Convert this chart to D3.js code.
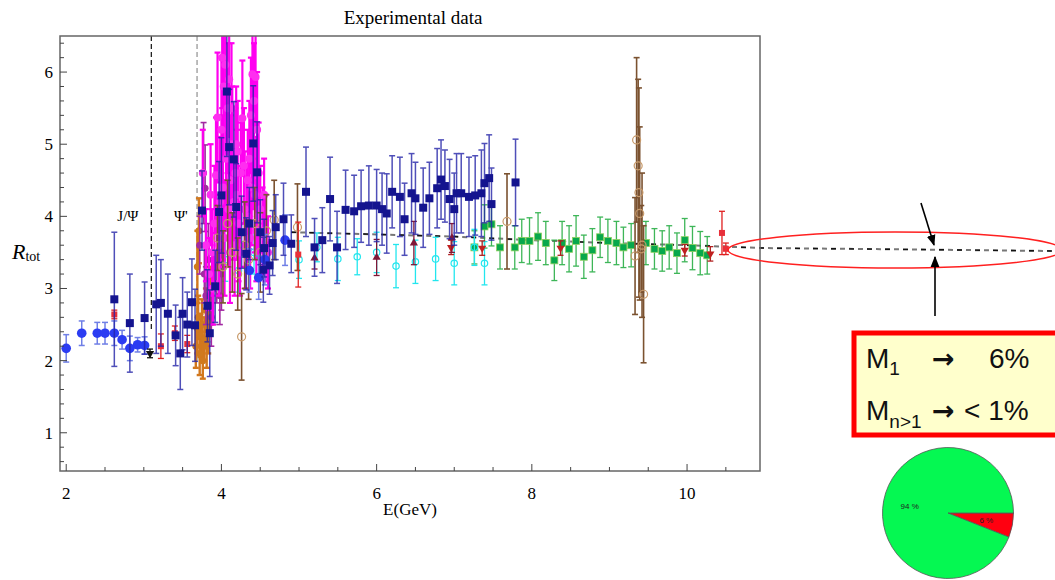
<!DOCTYPE html>
<html>
<head>
<meta charset="utf-8">
<script src="https://cdn.jsdelivr.net/npm/d3@7"></script>
<style>
  body { margin: 0; background: #fff; }
  svg { display: block; }
</style>
</head>
<body>
<svg id="chart" width="1055" height="580"></svg>
<script>
// ---- axis ticks ----
const xTicks = [2, 4, 6, 8, 10];
const yTicks = [1, 2, 3, 4, 5, 6];

// ---- measurements: [E (GeV), R, error] ----
const lowEnergyCircles = [
  [2.0, 2.17, 0.19], [2.2, 2.38, 0.17], [2.4, 2.38, 0.15], [2.5, 2.38, 0.15],
  [2.62, 2.38, 0.17], [2.72, 2.29, 0.13], [2.82, 2.17, 0.17], [2.92, 2.22, 0.10],
  [3.01, 2.21, 0.12], [4.36, 3.25, 0.30], [4.48, 3.15, 0.30], [4.56, 3.40, 0.35],
  [4.82, 3.67, 0.35]
];
const navySquares = [
  [2.62, 2.85, 0.93], [2.82, 2.52, 0.68], [3.01, 2.59, 0.50], [3.16, 2.78, 0.68],
  [3.22, 2.80, 0.60], [3.31, 2.65, 0.55], [3.41, 2.35, 0.42], [3.47, 2.10, 0.50],
  [3.50, 2.65, 0.50], [3.56, 2.50, 0.45], [3.62, 2.81, 0.60], [3.66, 2.49, 0.50],
  [3.75, 4.08, 0.55], [3.82, 2.76, 0.50], [3.85, 2.38, 0.60], [3.92, 3.03, 0.50],
  [3.97, 4.06, 0.70], [4.00, 4.29, 0.80], [4.07, 5.73, 0.90], [4.10, 4.96, 0.80],
  [4.16, 4.79, 0.80], [4.19, 4.13, 0.60], [4.26, 3.78, 0.50], [4.32, 3.48, 0.50],
  [4.36, 3.90, 0.50], [4.41, 5.01, 0.80], [4.46, 4.61, 0.70], [4.50, 3.78, 0.45],
  [4.54, 3.26, 0.45], [4.55, 3.56, 0.40], [4.62, 3.32, 0.40], [4.66, 3.63, 0.45],
  [4.70, 3.85, 0.45], [4.80, 3.96, 0.50], [4.90, 3.62, 0.40], [5.09, 4.34, 0.62],
  [5.20, 3.57, 0.40], [5.30, 3.67, 0.45], [5.40, 4.24, 0.58], [5.49, 3.57, 0.50],
  [5.60, 4.09, 0.55], [5.71, 4.07, 0.50], [5.80, 4.14, 0.50], [5.90, 4.15, 0.55],
  [6.00, 4.15, 0.50], [6.07, 4.10, 0.50], [6.13, 4.04, 0.55], [6.20, 4.34, 0.50],
  [6.30, 4.27, 0.55], [6.36, 3.96, 0.50], [6.45, 4.32, 0.55], [6.50, 4.25, 0.50],
  [6.60, 4.12, 0.55], [6.68, 4.25, 0.50], [6.78, 4.39, 0.55], [6.83, 4.51, 0.55],
  [6.88, 4.42, 0.50], [6.94, 4.24, 0.55], [7.00, 4.10, 0.50], [7.03, 4.32, 0.55],
  [7.09, 4.32, 0.55], [7.19, 4.27, 0.55], [7.27, 4.29, 0.55], [7.35, 4.32, 0.60],
  [7.39, 4.46, 0.55], [7.45, 4.53, 0.60], [7.48, 4.17, 0.50], [7.79, 4.47, 0.60]
];
const magentaPoints = [
  [3.76, 4.60, 0.60], [3.80, 3.60, 0.50], [3.84, 3.20, 0.50], [3.86, 4.30, 0.70],
  [3.88, 3.50, 0.60], [3.89, 3.00, 0.50], [3.91, 3.90, 0.80], [3.93, 4.57, 0.80],
  [3.95, 5.37, 0.90], [3.97, 3.60, 0.70], [3.98, 4.20, 0.90], [4.00, 5.20, 1.00],
  [4.01, 6.20, 0.70], [4.02, 4.40, 1.00], [4.03, 5.80, 1.00], [4.04, 3.70, 0.80],
  [4.05, 6.10, 0.90], [4.06, 4.80, 1.00], [4.08, 5.50, 0.90], [4.09, 4.10, 0.80],
  [4.10, 5.90, 0.80], [4.11, 3.50, 0.70], [4.12, 4.50, 0.90], [4.13, 5.50, 0.90],
  [4.14, 5.00, 0.80], [4.16, 4.20, 0.80], [4.17, 3.60, 0.70], [4.18, 4.60, 0.90],
  [4.19, 5.00, 0.80], [4.20, 4.30, 0.90], [4.21, 4.90, 0.70], [4.22, 3.90, 0.80],
  [4.24, 3.50, 0.60], [4.25, 4.60, 0.70], [4.27, 5.36, 0.80], [4.29, 4.70, 0.80],
  [4.30, 4.10, 0.80], [4.31, 3.60, 0.60], [4.33, 4.00, 0.70], [4.34, 4.50, 0.70],
  [4.36, 4.80, 0.80], [4.37, 3.70, 0.70], [4.38, 5.40, 0.80], [4.39, 4.40, 0.80],
  [4.40, 5.97, 0.70], [4.41, 5.00, 0.90], [4.42, 5.60, 0.80], [4.43, 4.30, 0.80],
  [4.44, 5.93, 0.70], [4.45, 3.80, 0.70], [4.46, 5.20, 0.80], [4.47, 4.00, 0.60],
  [4.48, 4.60, 0.70], [4.50, 4.10, 0.60], [4.53, 3.80, 0.60], [4.55, 4.30, 0.50],
  [4.57, 3.70, 0.60], [4.60, 3.50, 0.50]
];
const purplePoints = [
  [3.72, 3.60, 0.40], [3.77, 4.60, 0.70], [3.79, 4.39, 0.60], [3.78, 3.20, 0.40],
  [3.80, 2.90, 0.40], [3.83, 3.40, 0.50], [3.87, 2.60, 0.40], [3.90, 3.00, 0.50],
  [3.94, 3.30, 0.50], [3.98, 2.90, 0.40], [4.00, 3.20, 0.50]
];
const orangePoints = [
  [3.67, 2.20, 0.30], [3.69, 2.45, 0.35], [3.70, 2.60, 0.30], [3.72, 2.10, 0.30],
  [3.73, 2.35, 0.30], [3.75, 2.50, 0.35], [3.76, 2.00, 0.25], [3.78, 2.30, 0.30],
  [3.80, 2.70, 0.30], [3.81, 2.20, 0.30], [3.83, 2.45, 0.35], [3.86, 2.90, 0.40],
  [3.69, 3.30, 0.50], [3.71, 3.80, 0.45]
];
const brownCircles = [
  [3.95, 3.70, 0.45], [4.02, 3.30, 0.50], [4.08, 3.90, 0.60], [4.14, 3.50, 0.55],
  [4.21, 3.20, 0.50], [4.26, 2.33, 0.60], [4.30, 3.60, 0.60], [4.35, 3.40, 0.55],
  [4.43, 3.90, 0.50], [4.50, 3.50, 0.55], [4.58, 3.80, 0.50], [4.68, 3.95, 0.55],
  [4.98, 3.85, 0.60], [7.68, 3.93, 0.66],
  [9.33, 3.45, 0.81], [9.35, 5.06, 1.14], [9.37, 4.70, 1.20], [9.38, 4.33, 1.45],
  [9.39, 4.04, 1.20], [9.41, 3.55, 0.60], [9.42, 3.60, 1.00], [9.44, 2.92, 0.95]
];
const cyanCircles = [
  [4.05, 3.40, 0.30], [4.22, 3.25, 0.30], [4.42, 3.50, 0.30], [5.00, 3.40, 0.26],
  [5.23, 3.57, 0.20], [5.50, 3.41, 0.30], [5.75, 3.44, 0.25], [6.00, 3.50, 0.28],
  [6.25, 3.31, 0.30], [6.50, 3.37, 0.30], [6.76, 3.41, 0.30], [7.00, 3.35, 0.30],
  [7.26, 3.57, 0.25], [7.39, 3.35, 0.30]
];
const greenSquares = [
  [7.26, 3.57, 0.23], [7.39, 3.86, 0.30], [7.48, 3.89, 0.30], [7.59, 3.57, 0.30],
  [7.78, 3.57, 0.30], [7.87, 3.66, 0.30], [7.97, 3.66, 0.32], [8.08, 3.72, 0.33],
  [8.18, 3.63, 0.30], [8.29, 3.39, 0.28], [8.39, 3.63, 0.30], [8.48, 3.55, 0.32],
  [8.57, 3.66, 0.35], [8.67, 3.44, 0.30], [8.78, 3.53, 0.30], [8.88, 3.71, 0.28],
  [8.98, 3.66, 0.30], [9.09, 3.63, 0.30], [9.18, 3.57, 0.28], [9.28, 3.60, 0.30],
  [9.47, 3.63, 0.30], [9.58, 3.55, 0.28], [9.68, 3.52, 0.28], [9.77, 3.57, 0.30],
  [9.87, 3.49, 0.28], [9.97, 3.67, 0.30], [10.07, 3.56, 0.30], [10.17, 3.49, 0.30],
  [10.26, 3.46, 0.26]
];
const redSquares = [
  [2.62, 2.64, 0.06], [3.22, 2.20, 0.17], [3.40, 2.38, 0.10], [3.56, 2.23, 0.12],
  [4.99, 3.47, 0.45], [10.45, 3.77, 0.30], [10.50, 3.55, 0.08]
];
const redTriangles = [
  [6.96, 3.57, 0.10], [7.36, 3.56, 0.10], [8.37, 3.56, 0.10], [9.97, 3.53, 0.08],
  [10.30, 3.48, 0.10]
];
const maroonTriangles = [
  [5.20, 3.42, 0.15], [6.00, 3.43, 0.25], [6.48, 3.63, 0.30], [6.97, 3.70, 0.20]
];
const blackTriangles = [[3.08, 2.10, 0.06]];

// ---- perturbative curve (E, R) ----
const qcdCurve = [
  [4.9, 3.78], [6.0, 3.75], [7.0, 3.72], [8.0, 3.67], [9.0, 3.63],
  [10.0, 3.60], [11.0, 3.56], [12.0, 3.55], [13.0, 3.54], [14.7, 3.52]
];

// ---- resonances ----
const resonances = [
  { name: "J/Ψ", E: 3.097, top: 6.5, bottom: 2.4 },
  { name: "Ψ'", E: 3.686, top: 6.5, bottom: 2.0 }
];

// ---- inset contents ----
const pieLabels = ["6 %", "94 %"];
const pieShares = [6, 94];

const svg = d3.select("#chart");
const x = d3.scaleLinear().domain([1.92, 10.94]).range([60, 760]);
const y = d3.scaleLinear().domain([0.47, 6.5]).range([471, 36]);
const serif = "'Liberation Serif','Times New Roman',serif";
const sans = "'Liberation Sans',Arial,sans-serif";

const defs = svg.append("defs");
defs.append("clipPath").attr("id", "plotClip")
  .append("rect").attr("x", 60).attr("y", 36).attr("width", 700).attr("height", 435);
defs.append("marker").attr("id", "arrowHead").attr("viewBox", "0 0 10 10")
  .attr("refX", 9).attr("refY", 5).attr("markerUnits", "userSpaceOnUse")
  .attr("markerWidth", 11).attr("markerHeight", 11)
  .attr("orient", "auto-start-reverse")
  .append("path").attr("d", "M0,1 L10,5 L0,9 z").attr("fill", "#000");

// title
svg.append("text").attr("x", 413).attr("y", 24).attr("text-anchor", "middle")
  .attr("font-family", serif).attr("font-size", 19).text("Experimental data");

// resonance markers
const res = svg.append("g");
resonances.forEach((r, i) => {
  res.append("line").attr("x1", x(r.E)).attr("x2", x(r.E))
    .attr("y1", y(r.top)).attr("y2", y(r.bottom))
    .attr("stroke", i === 0 ? "#222" : "#999").attr("stroke-width", 1.3)
    .attr("stroke-dasharray", "5,3");
});
svg.append("text").attr("x", x(3.097) - 34).attr("y", 221)
  .attr("font-family", serif).attr("font-size", 15).text(resonances[0].name);
svg.append("text").attr("x", x(3.686) - 23).attr("y", 221)
  .attr("font-family", serif).attr("font-size", 15).text(resonances[1].name);

// perturbative curve (runs past the frame into the inset)
const qcdLine = d3.line().x(d => x(d[0])).y(d => y(d[1]));
svg.append("path").datum(qcdCurve).attr("d", qcdLine)
  .attr("fill", "none").attr("stroke", "#777").attr("stroke-width", 2)
  .attr("stroke-dasharray", "5,4");
svg.append("path").datum(qcdCurve).attr("d", qcdLine)
  .attr("fill", "none").attr("stroke", "#111").attr("stroke-width", 1.4)
  .attr("stroke-dasharray", "5,13").attr("stroke-dashoffset", 0);

// data series
const plot = svg.append("g").attr("clip-path", "url(#plotClip)");

function drawSeries(data, st) {
  const g = plot.append("g");
  const bars = g.append("g").attr("stroke", st.bar).attr("stroke-width", st.barWidth || 1.3)
    .attr("opacity", st.barOpacity || 1);
  data.forEach(d => {
    const cx = x(d[0]), y1 = y(d[1] + d[2]), y2 = y(d[1] - d[2]);
    bars.append("line").attr("x1", cx).attr("x2", cx).attr("y1", y1).attr("y2", y2);
    [y1, y2].forEach(yy => bars.append("line")
      .attr("x1", cx - 3).attr("x2", cx + 3).attr("y1", yy).attr("y2", yy));
  });
  const s = st.size;
  data.forEach(d => {
    const cx = x(d[0]), cy = y(d[1]);
    if (st.shape === "circle") {
      g.append("circle").attr("cx", cx).attr("cy", cy).attr("r", s)
        .attr("fill", st.fill).attr("stroke", st.stroke || "none").attr("stroke-width", 1.2);
    } else if (st.shape === "square") {
      g.append("rect").attr("x", cx - s / 2).attr("y", cy - s / 2).attr("width", s).attr("height", s)
        .attr("fill", st.fill).attr("stroke", st.stroke || "none").attr("stroke-width", 0.8);
    } else {
      g.append("path").attr("transform", `translate(${cx},${cy}) rotate(${st.rotate || 0})`)
        .attr("d", d3.symbol(d3.symbolTriangle, s * s * 0.6)())
        .attr("fill", st.fill);
    }
  });
}

drawSeries(greenSquares, { shape: "square", size: 7, fill: "#07a84c", stroke: "#8fd060", bar: "#1daa3c", barOpacity: 0.85 });
drawSeries(cyanCircles, { shape: "circle", size: 3.2, fill: "none", stroke: "#22e6ee", bar: "#22e6ee" });
drawSeries(orangePoints, { shape: "circle", size: 3.5, fill: "#d07a1e", bar: "#d2781e", barWidth: 2.4 });
drawSeries(purplePoints, { shape: "circle", size: 3.5, fill: "#a22aa2", bar: "#a22aa2", barWidth: 1.6 });
drawSeries(magentaPoints, { shape: "circle", size: 4, fill: "#ff2ef0", bar: "#ff00f0", barWidth: 2.2 });
drawSeries(brownCircles, { shape: "circle", size: 4, fill: "none", stroke: "#c89a6a", bar: "#7b5230", barWidth: 1.6 });
drawSeries(redSquares, { shape: "square", size: 6, fill: "#e8303a", bar: "#e02020" });
drawSeries(redTriangles, { shape: "triangle", size: 7, fill: "#c02020", rotate: 180, bar: "#b02020" });
drawSeries(maroonTriangles, { shape: "triangle", size: 7, fill: "#801838", bar: "#801838" });
drawSeries(lowEnergyCircles, { shape: "circle", size: 4.8, fill: "#2b3cf2", bar: "#6f7fe6", barWidth: 1.5 });
drawSeries(navySquares, { shape: "square", size: 8, fill: "#14148f", bar: "#2424a8", barOpacity: 0.8, barWidth: 1.5 });
drawSeries(blackTriangles, { shape: "triangle", size: 7, fill: "#111", rotate: 180, bar: "#111" });

// frame
svg.append("rect").attr("x", 60).attr("y", 36).attr("width", 700).attr("height", 435)
  .attr("fill", "none").attr("stroke", "#666").attr("stroke-width", 1.5);

// bottom ticks
const axes = svg.append("g").attr("stroke", "#444").attr("stroke-width", 1);
d3.range(2, 10.75, 0.5).forEach(v => {
  const major = xTicks.includes(v);
  axes.append("line").attr("x1", x(v)).attr("x2", x(v))
    .attr("y1", 471).attr("y2", 471 - (major ? 7 : 4));
});
xTicks.forEach(v => svg.append("text").attr("x", x(v)).attr("y", 499)
  .attr("text-anchor", "middle").attr("font-family", serif).attr("font-size", 17).text(v));

// left ticks
d3.range(0.6, 6.45, 0.2).forEach(v => {
  const vv = Math.round(v * 10) / 10;
  const major = yTicks.includes(vv);
  axes.append("line").attr("x1", 60).attr("x2", 60 + (major ? 7 : 4))
    .attr("y1", y(vv)).attr("y2", y(vv));
});
yTicks.forEach(v => svg.append("text").attr("x", 53).attr("y", y(v) + 6)
  .attr("text-anchor", "end").attr("font-family", serif).attr("font-size", 17).text(v));

// axis labels
svg.append("text").attr("x", 410).attr("y", 515).attr("text-anchor", "middle")
  .attr("font-family", serif).attr("font-size", 17).text("E(GeV)");
const rl = svg.append("text").attr("x", 12).attr("y", 259).attr("font-family", serif);
rl.append("tspan").attr("font-style", "italic").attr("font-size", 22).text("R");
rl.append("tspan").attr("font-size", 14).attr("dy", 2).text("tot");

// highlighted region around the high-energy limit
svg.append("ellipse").attr("cx", 895).attr("cy", 250).attr("rx", 167).attr("ry", 18)
  .attr("fill", "none").attr("stroke", "#ff2020").attr("stroke-width", 1.5);
svg.append("line").attr("x1", 921).attr("y1", 203).attr("x2", 934).attr("y2", 245)
  .attr("stroke", "#000").attr("stroke-width", 1.6).attr("marker-end", "url(#arrowHead)");
svg.append("line").attr("x1", 935).attr("y1", 316).attr("x2", 935).attr("y2", 257)
  .attr("stroke", "#000").attr("stroke-width", 1.6).attr("marker-end", "url(#arrowHead)");

// summary box
svg.append("rect").attr("x", 854).attr("y", 333).attr("width", 215).attr("height", 102)
  .attr("fill", "#ffffcc").attr("stroke", "#ff0000").attr("stroke-width", 5);
const bt = svg.append("g").attr("font-family", sans).attr("fill", "#111");
const arrowFont = "'DejaVu Sans',sans-serif";
const l1 = bt.append("text").attr("x", 866).attr("y", 368).attr("font-size", 28);
l1.append("tspan").text("M");
l1.append("tspan").attr("font-size", 19).attr("dy", 7).text("1");
bt.append("text").attr("x", 932).attr("y", 368).attr("font-size", 27)
  .attr("font-family", arrowFont).attr("font-weight", "bold").text("→");
bt.append("text").attr("x", 989).attr("y", 368).attr("font-size", 28).text("6%");
const l2 = bt.append("text").attr("x", 866).attr("y", 420).attr("font-size", 28);
l2.append("tspan").text("M");
l2.append("tspan").attr("font-size", 19).attr("dy", 8).text("n>1");
bt.append("text").attr("x", 932).attr("y", 420).attr("font-size", 27)
  .attr("font-family", arrowFont).attr("font-weight", "bold").text("→");
bt.append("text").attr("x", 964).attr("y", 420).attr("font-size", 28).text("< 1%");

// pie of the two shares
const pieG = svg.append("g").attr("transform", "translate(948,513)");
const pieData = d3.pie().sort(null).startAngle(Math.PI / 2).endAngle(Math.PI / 2 + 2 * Math.PI)(pieShares);
const arc = d3.arc().innerRadius(0).outerRadius(65.5);
const pieColors = ["#ff0010", "#05f852"];
pieG.selectAll("path").data(pieData).join("path").attr("d", arc)
  .attr("fill", (d, i) => pieColors[i]).attr("stroke", "#555").attr("stroke-width", 0.8);
const labelArc = d3.arc().innerRadius(39).outerRadius(39);
pieG.selectAll("text").data(pieData).join("text")
  .attr("transform", d => `translate(${labelArc.centroid(d)})`)
  .attr("text-anchor", "middle").attr("dy", 3)
  .attr("font-family", sans).attr("font-size", 8).attr("fill", "#222")
  .text((d, i) => pieLabels[i]);
</script>
</body>
</html>
